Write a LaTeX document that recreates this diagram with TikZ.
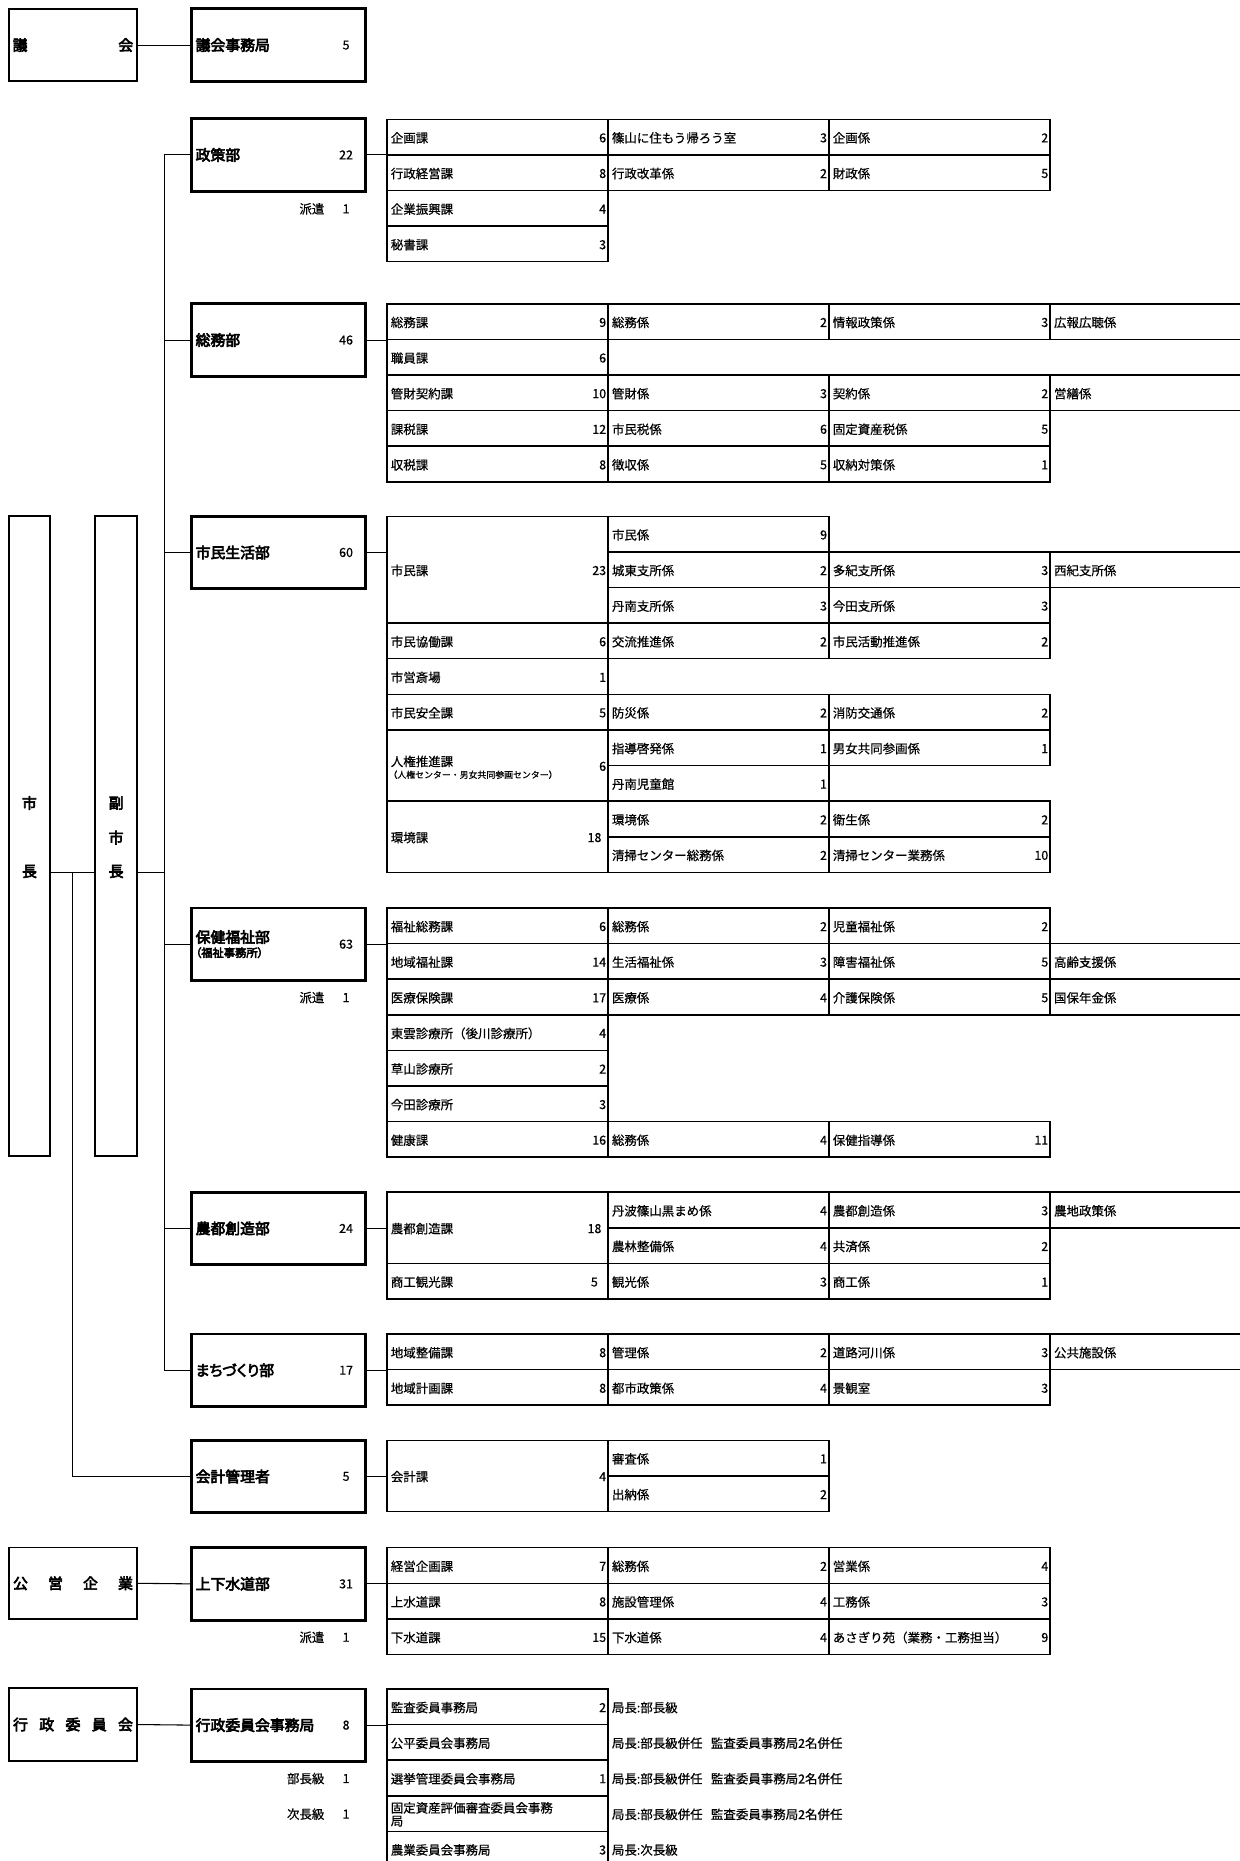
\documentclass[tikz,border=0pt]{standalone}
\usepackage{fontspec}
\setmainfont{Noto Sans CJK JP}[AutoFakeBold=4,UprightFeatures={FakeBold=0.5},BoldFeatures={FakeBold=1.5}]
\newfontfamily\deptfont{Noto Sans CJK JP}[AutoFakeBold=4,RawFeature=+palt,BoldFeatures={FakeBold=1.5}]
\newcommand\fsT{\fontsize{10.5}{12.5}\selectfont}
\newcommand\fsD{\deptfont\bfseries\fontsize{12.5}{14}\selectfont}
\newcommand\fsS{\fontsize{7.5}{8.5}\selectfont}
\newcommand\fsF{\deptfont\bfseries\fontsize{9.5}{11}\selectfont}
\def\cA{326}\def\cB{512.3}\def\cC{698.4}\def\cD{884.8}\def\cE{1070}
\tikzset{
  cellb/.style={draw, line width=1.3pt, inner sep=0pt, outer sep=0pt, rectangle},
  deptb/.style={draw, line width=2.4pt, inner sep=0pt, outer sep=0pt, rectangle},
  topb/.style={draw, line width=1.5pt, inner sep=0pt, outer sep=0pt, rectangle},
  conn/.style={line width=0.9pt},
  lbl/.style={inner sep=0pt, outer sep=0pt, font=\fsT},
  dlbl/.style={inner sep=0pt, outer sep=0pt, font=\fsD, align=left},
}
\newcommand\Cell[7]{%
  \node[cellb, minimum width={(#4)-(#2)}, minimum height={(#5)-(#3)}] (#1) at ({((#2)+(#4))/2},{((#3)+(#5))/2}) {};
  \node[lbl, anchor=west] (#1l) at ([xshift=3.3pt,yshift=-0.7pt]#1.west) {#6};
  \node[lbl, anchor=east] (#1n) at ([xshift=-1.6pt,yshift=-0.7pt]#1.east) {#7};
}
\newcommand\Dept[4]{%
  \node[deptb, minimum width=146.7pt, minimum height=61pt] (#1) at (234.4,#2) {};
  \node[dlbl, anchor=west] (#1l) at ([xshift=3.8pt]#1.west) {#3};
  \node[lbl] (#1n) at (291.6,#2) {#4};
}
\begin{document}
\begin{tikzpicture}[x=1pt,y=-1pt]
\fill[white] (0,0) rectangle (1044,1568);
\useasboundingbox (0,0) rectangle (1044,1568);

% ---------- top-level boxes ----------
\node[topb, minimum width=108.4pt, minimum height=60.4pt] (gikai) at (61.5,38) {};
\node[dlbl] (gikait) at (gikai.center) {\makebox[101.5pt]{議\hfill 会}};
\node[topb, minimum width=108.4pt, minimum height=60.5pt] (kouei) at (61.5,1334) {};
\node[dlbl] (koueit) at (kouei.center) {\makebox[101pt]{公\hfill 営\hfill 企\hfill 業}};
\node[topb, minimum width=108.4pt, minimum height=61pt] (gyosei) at (61.5,1453) {};
\node[dlbl] (gyoseit) at (gyosei.center) {\makebox[101pt]{行\hfill 政\hfill 委\hfill 員\hfill 会}};
\node[topb, minimum width=35pt, minimum height=539pt] (mayor) at (24.8,704.5) {};
\node[dlbl] (mayor1) at (24.8,676.6) {市};
\node[dlbl] (mayor2) at (24.8,734.3) {長};
\node[topb, minimum width=35.7pt, minimum height=539pt] (vm) at (97.85,704.5) {};
\node[dlbl] (vm1) at (97.85,676.6) {副};
\node[dlbl] (vm2) at (97.85,705.7) {市};
\node[dlbl] (vm3) at (97.85,734.3) {長};

% ---------- departments ----------
\Dept{gikaijim}{38}{議会事務局}{5}
\Dept{seisaku}{130.5}{政策部}{22}
\Dept{soumu}{286.5}{総務部}{46}
\Dept{shimin}{465.5}{市民生活部}{60}
\Dept{hoken}{795.5}{保健福祉部\\[-2pt]{\fsF （福祉事務所）}}{63}
\Dept{nouto}{1035}{農都創造部}{24}
\Dept{machi}{1154.5}{まちづくり部}{17}
\Dept{kaikei}{1244}{会計管理者}{5}
\Dept{jouge}{1334.5}{上下水道部}{31}
\Dept{iinkai}{1453.5}{行政委員会事務局}{8}

\node[lbl, anchor=east] (hk1) at (273.3,176) {派遣};
\node[lbl] (hk1n) at (291.6,176) {1};
\node[lbl, anchor=east] (hk2) at (273.3,840.5) {派遣};
\node[lbl] (hk2n) at (291.6,840.5) {1};
\node[lbl, anchor=east] (hk3) at (273.3,1379.5) {派遣};
\node[lbl] (hk3n) at (291.6,1379.5) {1};
\node[lbl, anchor=east] (bch) at (273.3,1498.5) {部長級};
\node[lbl] (bchn) at (291.6,1498.5) {1};
\node[lbl, anchor=east] (jch) at (273.3,1528.5) {次長級};
\node[lbl] (jchn) at (291.6,1528.5) {1};

% ---------- 政策部 ----------
\Cell{a11}{\cA}{100.5}{\cB}{130.5}{企画課}{6}
\Cell{a12}{\cA}{130.5}{\cB}{160.5}{行政経営課}{8}
\Cell{a13}{\cA}{160.5}{\cB}{190.5}{企業振興課}{4}
\Cell{a14}{\cA}{190.5}{\cB}{220.5}{秘書課}{3}
\Cell{a21}{\cB}{100.5}{\cC}{130.5}{篠山に住もう帰ろう室}{3}
\Cell{a22}{\cB}{130.5}{\cC}{160.5}{行政改革係}{2}
\Cell{a31}{\cC}{100.5}{\cD}{130.5}{企画係}{2}
\Cell{a32}{\cC}{130.5}{\cD}{160.5}{財政係}{5}

% ---------- 総務部 ----------
\Cell{b11}{\cA}{256}{\cB}{286}{総務課}{9}
\Cell{b12}{\cA}{286}{\cB}{316}{職員課}{6}
\Cell{b13}{\cA}{316}{\cB}{346}{管財契約課}{10}
\Cell{b14}{\cA}{346}{\cB}{376}{課税課}{12}
\Cell{b15}{\cA}{376}{\cB}{406}{収税課}{8}
\Cell{b21}{\cB}{256}{\cC}{286}{総務係}{2}
\Cell{b31}{\cC}{256}{\cD}{286}{情報政策係}{3}
\Cell{b41}{\cD}{256}{\cE}{286}{広報広聴係}{}
\Cell{b23}{\cB}{316}{\cC}{346}{管財係}{3}
\Cell{b33}{\cC}{316}{\cD}{346}{契約係}{2}
\Cell{b43}{\cD}{316}{\cE}{346}{営繕係}{}
\Cell{b24}{\cB}{346}{\cC}{376}{市民税係}{6}
\Cell{b34}{\cC}{346}{\cD}{376}{固定資産税係}{5}
\Cell{b25}{\cB}{376}{\cC}{406}{徴収係}{5}
\Cell{b35}{\cC}{376}{\cD}{406}{収納対策係}{1}

% ---------- 市民生活部 ----------
\Cell{c11}{\cA}{435}{\cB}{525}{市民課}{23}
\Cell{c12}{\cA}{525}{\cB}{555}{市民協働課}{6}
\Cell{c13}{\cA}{555}{\cB}{585}{市営斎場}{1}
\Cell{c14}{\cA}{585}{\cB}{615}{市民安全課}{5}
\Cell{c15}{\cA}{615}{\cB}{675}{}{6}
\node[lbl, anchor=west, align=left] (c15t) at ([xshift=3.3pt,yshift=-1.5pt]c15.west) {人権推進課\\[-2.5pt]{\fsS\hspace*{-2pt}（人権センター・男女共同参画センター）}};
\Cell{c16}{\cA}{675}{\cB}{735}{環境課}{}
\node[lbl, anchor=east] (c16m) at ([xshift=-5.6pt,yshift=-0.7pt]c16.east) {18};
\Cell{c21}{\cB}{435}{\cC}{465}{市民係}{9}
\Cell{c22}{\cB}{465}{\cC}{495}{城東支所係}{2}
\Cell{c23}{\cB}{495}{\cC}{525}{丹南支所係}{3}
\Cell{c24}{\cB}{525}{\cC}{555}{交流推進係}{2}
\Cell{c25}{\cB}{585}{\cC}{615}{防災係}{2}
\Cell{c26}{\cB}{615}{\cC}{645}{指導啓発係}{1}
\Cell{c27}{\cB}{645}{\cC}{675}{丹南児童館}{1}
\Cell{c28}{\cB}{675}{\cC}{705}{環境係}{2}
\Cell{c29}{\cB}{705}{\cC}{735}{清掃センター総務係}{2}
\Cell{c31}{\cC}{465}{\cD}{495}{多紀支所係}{3}
\Cell{c32}{\cC}{495}{\cD}{525}{今田支所係}{3}
\Cell{c33}{\cC}{525}{\cD}{555}{市民活動推進係}{2}
\Cell{c34}{\cC}{585}{\cD}{615}{消防交通係}{2}
\Cell{c35}{\cC}{615}{\cD}{645}{男女共同参画係}{1}
\Cell{c36}{\cC}{675}{\cD}{705}{衛生係}{2}
\Cell{c37}{\cC}{705}{\cD}{735}{清掃センター業務係}{10}
\Cell{c41}{\cD}{465}{\cE}{495}{西紀支所係}{}

% ---------- 保健福祉部 ----------
\Cell{d11}{\cA}{765}{\cB}{795}{福祉総務課}{6}
\Cell{d12}{\cA}{795}{\cB}{825}{地域福祉課}{14}
\Cell{d13}{\cA}{825}{\cB}{855}{医療保険課}{17}
\Cell{d14}{\cA}{855}{\cB}{885}{東雲診療所（後川診療所）}{4}
\Cell{d15}{\cA}{885}{\cB}{915}{草山診療所}{2}
\Cell{d16}{\cA}{915}{\cB}{945}{今田診療所}{3}
\Cell{d17}{\cA}{945}{\cB}{975}{健康課}{16}
\Cell{d21}{\cB}{765}{\cC}{795}{総務係}{2}
\Cell{d31}{\cC}{765}{\cD}{795}{児童福祉係}{2}
\Cell{d22}{\cB}{795}{\cC}{825}{生活福祉係}{3}
\Cell{d32}{\cC}{795}{\cD}{825}{障害福祉係}{5}
\Cell{d42}{\cD}{795}{\cE}{825}{高齢支援係}{}
\Cell{d23}{\cB}{825}{\cC}{855}{医療係}{4}
\Cell{d33}{\cC}{825}{\cD}{855}{介護保険係}{5}
\Cell{d43}{\cD}{825}{\cE}{855}{国保年金係}{}
\Cell{d27}{\cB}{945}{\cC}{975}{総務係}{4}
\Cell{d37}{\cC}{945}{\cD}{975}{保健指導係}{11}

% ---------- 農都創造部 ----------
\Cell{e11}{\cA}{1004.5}{\cB}{1064.5}{農都創造課}{}
\node[lbl, anchor=east] (e11m) at ([xshift=-5.6pt,yshift=-0.7pt]e11.east) {18};
\Cell{e12}{\cA}{1064.5}{\cB}{1094.5}{商工観光課}{}
\node[lbl, anchor=east] (e12m) at ([xshift=-8.6pt,yshift=-0.7pt]e12.east) {5};
\Cell{e21}{\cB}{1004.5}{\cC}{1034.5}{丹波篠山黒まめ係}{4}
\Cell{e31}{\cC}{1004.5}{\cD}{1034.5}{農都創造係}{3}
\Cell{e41}{\cD}{1004.5}{\cE}{1034.5}{農地政策係}{}
\Cell{e22}{\cB}{1034.5}{\cC}{1064.5}{農林整備係}{4}
\Cell{e32}{\cC}{1034.5}{\cD}{1064.5}{共済係}{2}
\Cell{e23}{\cB}{1064.5}{\cC}{1094.5}{観光係}{3}
\Cell{e33}{\cC}{1064.5}{\cD}{1094.5}{商工係}{1}

% ---------- まちづくり部 ----------
\Cell{f11}{\cA}{1124}{\cB}{1154}{地域整備課}{8}
\Cell{f12}{\cA}{1154}{\cB}{1184}{地域計画課}{8}
\Cell{f21}{\cB}{1124}{\cC}{1154}{管理係}{2}
\Cell{f31}{\cC}{1124}{\cD}{1154}{道路河川係}{3}
\Cell{f41}{\cD}{1124}{\cE}{1154}{公共施設係}{}
\Cell{f22}{\cB}{1154}{\cC}{1184}{都市政策係}{4}
\Cell{f32}{\cC}{1154}{\cD}{1184}{景観室}{3}

% ---------- 会計管理者 ----------
\Cell{g11}{\cA}{1213.5}{\cB}{1273.5}{会計課}{4}
\Cell{g21}{\cB}{1213.5}{\cC}{1243.5}{審査係}{1}
\Cell{g22}{\cB}{1243.5}{\cC}{1273.5}{出納係}{2}

% ---------- 上下水道部 ----------
\Cell{h11}{\cA}{1304}{\cB}{1334}{経営企画課}{7}
\Cell{h12}{\cA}{1334}{\cB}{1364}{上水道課}{8}
\Cell{h13}{\cA}{1364}{\cB}{1394}{下水道課}{15}
\Cell{h21}{\cB}{1304}{\cC}{1334}{総務係}{2}
\Cell{h31}{\cC}{1304}{\cD}{1334}{営業係}{4}
\Cell{h22}{\cB}{1334}{\cC}{1364}{施設管理係}{4}
\Cell{h32}{\cC}{1334}{\cD}{1364}{工務係}{3}
\Cell{h23}{\cB}{1364}{\cC}{1394}{下水道係}{4}
\Cell{h33}{\cC}{1364}{\cD}{1394}{あさぎり苑（業務・工務担当）}{9}

% ---------- 行政委員会事務局 ----------
\Cell{i11}{\cA}{1423}{\cB}{1453}{監査委員事務局}{2}
\Cell{i12}{\cA}{1453}{\cB}{1483}{公平委員会事務局}{}
\Cell{i13}{\cA}{1483}{\cB}{1513}{選挙管理委員会事務局}{1}
\Cell{i14}{\cA}{1513}{\cB}{1543}{}{}
\node[lbl, anchor=west, align=left] (i14t) at ([xshift=3.3pt,yshift=-0.7pt]i14.west) {固定資産評価審査委員会事務\\[-1.5pt]局};
\Cell{i15}{\cA}{1543}{\cB}{1573}{農業委員会事務局}{3}
\node[lbl, anchor=west] (i21) at ([xshift=3.3pt,yshift=-0.7pt]i11.east) {局長:部長級};
\node[lbl, anchor=west] (i22) at ([xshift=3.3pt,yshift=-0.7pt]i12.east) {局長:部長級併任\hspace{7pt}監査委員事務局2名併任};
\node[lbl, anchor=west] (i23) at ([xshift=3.3pt,yshift=-0.7pt]i13.east) {局長:部長級併任\hspace{7pt}監査委員事務局2名併任};
\node[lbl, anchor=west] (i24) at ([xshift=3.3pt,yshift=-0.7pt]i14.east) {局長:部長級併任\hspace{7pt}監査委員事務局2名併任};
\node[lbl, anchor=west] (i25) at ([xshift=3.3pt,yshift=-0.7pt]i15.east) {局長:次長級};

% ---------- connectors ----------
\coordinate (jx) at (61,735);
\coordinate (tr) at (138.3,735);
\draw[conn] (gikai.east) -- (gikaijim.west);
\draw[conn] (kouei.east) -- (jouge.west);
\draw[conn] (gyosei.east) -- (iinkai.west);
\draw[conn] (mayor.east |- jx) -- (vm.west |- jx);
\draw[conn] (jx) |- (kaikei.west);
\draw[conn] (vm.east |- tr) -- (tr);
\draw[conn] (seisaku.west) -| (tr);
\draw[conn] (machi.west) -| (tr);
\draw[conn] (soumu.west) -- (soumu.west -| tr);
\draw[conn] (shimin.west) -- (shimin.west -| tr);
\draw[conn] (hoken.west) -- (hoken.west -| tr);
\draw[conn] (nouto.west) -- (nouto.west -| tr);
\draw[conn] (seisaku.east) -- (seisaku.east -| a11.west);
\draw[conn] (soumu.east) -- (soumu.east -| b11.west);
\draw[conn] (shimin.east) -- (shimin.east -| c11.west);
\draw[conn] (hoken.east) -- (hoken.east -| d11.west);
\draw[conn] (nouto.east) -- (nouto.east -| e11.west);
\draw[conn] (machi.east) -- (machi.east -| f11.west);
\draw[conn] (kaikei.east) -- (kaikei.east -| g11.west);
\draw[conn] (jouge.east) -- (jouge.east -| h11.west);
\draw[conn] (iinkai.east) -- (iinkai.east -| i11.west);
\end{tikzpicture}
\end{document}
